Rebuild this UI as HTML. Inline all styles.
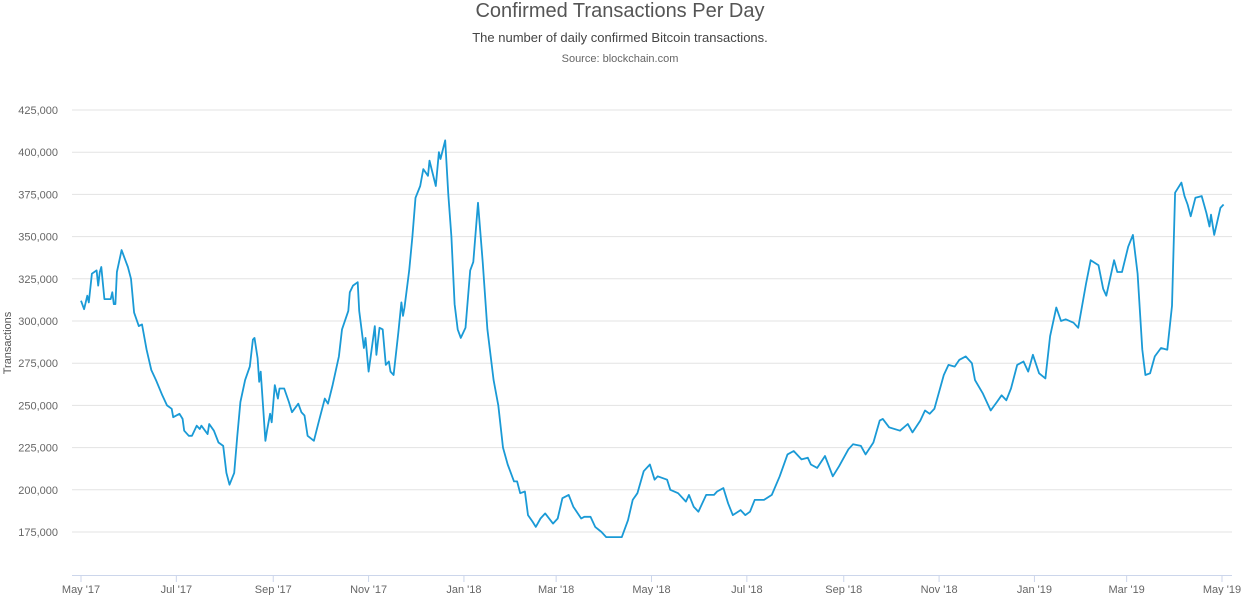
<!DOCTYPE html>
<html><head><meta charset="utf-8"><style>
body{margin:0;background:#fff;font-family:"Liberation Sans",sans-serif;}
svg text{font-family:"Liberation Sans",sans-serif;}
</style></head><body>
<svg id="chart" width="1242" height="595" viewBox="0 0 1242 595" xmlns="http://www.w3.org/2000/svg">
<text x="620" y="17" text-anchor="middle" font-size="20" fill="#555">Confirmed Transactions Per Day</text>
<text x="620" y="42" text-anchor="middle" font-size="13" fill="#444">The number of daily confirmed Bitcoin transactions.</text>
<text x="620" y="62" text-anchor="middle" font-size="11" fill="#666">Source: blockchain.com</text>
<text transform="translate(11,343) rotate(-90)" text-anchor="middle" font-size="11" fill="#555">Transactions</text>
<g id="grid"></g><g id="xaxis"></g>
<path id="line" fill="none" stroke="#1a9ad6" stroke-width="1.8" stroke-linejoin="round"/>
</svg>
<script>
const yTicks=[175000,200000,225000,250000,275000,300000,325000,350000,375000,400000,425000];
const xTickDays=[0,61,123,184,245,304,365,426,488,549,610,669,730];
const xTickLabels=["May '17","Jul '17","Sep '17","Nov '17","Jan '18","Mar '18","May '18","Jul '18","Sep '18","Nov '18","Jan '19","Mar '19","May '19"];
const days=[0,2,4,5,7,10,11,12,13,15,19,20,21,22,23,26,30,32,34,37,39,42,45,48,52,55,58,59,63,65,66,69,71,74,76,77,81,82,85,88,91,93,95,98,100,102,105,108,110,111,113,114,115,118,119,121,122,124,126,127,130,133,135,139,141,143,145,149,152,156,158,161,165,167,171,172,174,177,178,181,182,184,188,189,191,193,195,197,198,200,203,205,206,207,210,212,214,217,219,222,223,227,229,230,233,235,237,239,241,243,246,249,251,254,257,260,264,267,270,273,277,279,281,284,286,289,291,294,297,302,305,308,312,315,320,322,326,329,333,336,341,346,350,353,356,360,364,367,369,375,377,382,387,389,392,395,400,405,407,411,414,417,422,425,428,431,437,442,447,452,456,461,465,467,471,476,481,485,491,494,499,502,507,511,513,517,524,529,532,537,540,543,546,552,555,559,562,566,570,572,577,582,586,589,592,595,599,603,606,609,613,617,620,624,627,630,635,638,643,646,651,654,656,661,663,666,670,673,676,679,681,684,687,691,695,698,700,704,706,708,710,713,717,720,722,723,725,727,729,731];
const values=[312,307,315,311,328,330,321,329,332,313,313,317,310,310,329,342,332,325,305,297,298,283,271,265,256,250,248,243,245,242,235,232,232,238,236,238,233,239,235,228,226,210,203,210,232,252,265,273,289,290,278,264,270,229,235,245,240,262,254,260,260,252,246,251,246,244,232,229,240,254,251,262,279,295,306,317,321,323,306,284,290,270,297,280,296,295,274,276,270,268,293,311,303,308,330,350,373,380,390,386,395,380,400,396,407,375,350,310,295,290,296,330,335,370,335,295,265,250,225,215,205,205,198,199,185,181,178,183,186,180,183,195,197,190,183,184,184,178,175,172,172,172,182,194,198,211,215,206,208,206,200,198,193,197,190,187,197,197,199,201,192,185,188,185,187,194,194,197,208,221,223,218,219,215,213,220,208,214,224,227,226,221,228,241,242,237,235,239,234,241,247,245,248,268,274,273,277,279,275,265,257,247,252,256,253,260,274,276,270,280,269,266,291,308,300,301,299,296,322,336,333,319,315,336,329,329,344,351,328,283,268,269,279,284,283,309,376,382,374,369,362,373,374,364,356,363,351,359,367,369];
const X=d=>81+d*1.563;
const Y=v=>110+(425000-v)/25000*42.2;
const NS="http://www.w3.org/2000/svg";
const grid=document.getElementById('grid');
yTicks.forEach(t=>{
  const l=document.createElementNS(NS,'line');
  
  
  l.setAttribute('x1',72);l.setAttribute('x2',1232);l.setAttribute('y1',Y(t));l.setAttribute('y2',Y(t));
  l.setAttribute('stroke','#e3e3e3');l.setAttribute('stroke-width','1');
  grid.appendChild(l);
  const tx=document.createElementNS(NS,'text');
  
  
  tx.setAttribute('x',58);tx.setAttribute('y',Y(t)+4);tx.setAttribute('text-anchor','end');
  tx.setAttribute('font-size','11');tx.setAttribute('fill','#666');
  tx.textContent=t.toLocaleString('en-US');
  grid.appendChild(tx);
});
const xa=document.getElementById('xaxis');
const ax=document.createElementNS(NS,'line');


ax.setAttribute('x1',72);ax.setAttribute('x2',1232);ax.setAttribute('y1',575.5);ax.setAttribute('y2',575.5);
ax.setAttribute('stroke','#ccd6eb');xa.appendChild(ax);
xTickDays.forEach((d,i)=>{
  const t=document.createElementNS(NS,'line');
  
  
  t.setAttribute('x1',X(d));t.setAttribute('x2',X(d));t.setAttribute('y1',575);t.setAttribute('y2',582);
  t.setAttribute('stroke','#ccd6eb');xa.appendChild(t);
  const tx=document.createElementNS(NS,'text');
  
  
  tx.setAttribute('x',X(d));tx.setAttribute('y',593);tx.setAttribute('text-anchor','middle');
  tx.setAttribute('font-size','11');tx.setAttribute('fill','#666');
  tx.textContent=xTickLabels[i];xa.appendChild(tx);
});
document.getElementById('line').setAttribute('d',days.map((d,i)=>(i?'L':'M')+X(d).toFixed(1)+','+Y(values[i]*1000).toFixed(1)).join(''));
</script>
</body></html>
